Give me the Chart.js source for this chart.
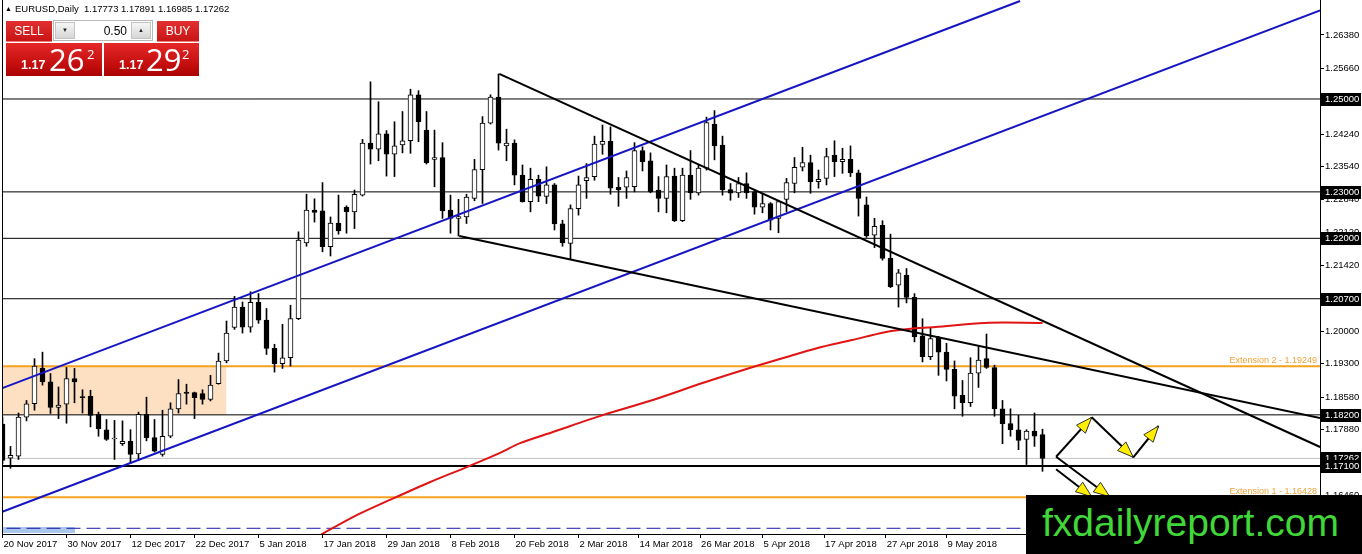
<!DOCTYPE html>
<html>
<head>
<meta charset="utf-8">
<script src="https://cdn.jsdelivr.net/npm/chart.js@4.4.1/dist/chart.umd.min.js"></script>
<style>
html,body{margin:0;padding:0;background:#fff;}
#wrap{position:relative;width:1362px;height:554px;overflow:hidden;font-family:"Liberation Sans",Arial,sans-serif;}
#c{position:absolute;left:0;top:0;}
#hdr{position:absolute;left:5px;top:3px;font-size:9.5px;color:#000;white-space:nowrap;}
#hdr .tri{font-size:7px;margin-right:3px;position:relative;top:-1px;}
.btn{position:absolute;top:21px;height:21px;background:linear-gradient(#e23030,#c81414);color:#fff;font-size:12px;line-height:21px;text-align:center;box-sizing:border-box;border-bottom:1px solid #f08080;}
#sellBtn{left:6px;width:46px;}
#buyBtn{left:157px;width:42px;}
#vol{position:absolute;left:53px;top:20px;width:100px;height:21px;background:#fff;border:1px solid #b8b8b8;box-sizing:border-box;}
#vol .ar{position:absolute;top:1px;width:20px;height:17px;background:linear-gradient(#f6f6f6,#d6d6d6);border:1px solid #c4c4c4;box-sizing:border-box;font-size:6px;line-height:15px;text-align:center;color:#222;}
#vol .dn{left:1px;}
#vol .up{right:1px;}
#vol .val{position:absolute;right:25px;top:1px;font-size:12px;line-height:18px;color:#000;}
.px{position:absolute;top:43px;height:33px;background:linear-gradient(#e52828,#c40e0e 65%,#a90404);color:#fff;box-sizing:border-box;}
#sellPx{left:6px;width:96px;}
#buyPx{left:104px;width:95px;}
.px .s{position:absolute;bottom:4px;font-size:12.5px;font-weight:bold;font-family:"Liberation Sans",Arial,sans-serif;}
.px .b{position:absolute;top:-5px;font-size:31px;font-family:"Open Sans","Liberation Sans",sans-serif;}
.px .p{position:absolute;top:2px;font-size:13px;font-family:"Open Sans","Liberation Sans",sans-serif;}
#logo{position:absolute;left:1026px;top:495px;width:336px;height:59px;background:#000;color:#40d838;font-family:"Liberation Sans",Arial,sans-serif;font-size:39px;line-height:56px;padding-left:16px;box-sizing:border-box;white-space:nowrap;}
</style>
</head>
<body>
<div id="wrap">
<canvas id="c" width="1362" height="554"></canvas>
<div id="hdr"><span class="tri">&#9650;</span>EURUSD,Daily&nbsp; 1.17773 1.17891 1.16985 1.17262</div>
<div class="btn" id="sellBtn">SELL</div>
<div id="vol"><div class="ar dn">&#9660;</div><div class="val">0.50</div><div class="ar up">&#9650;</div></div>
<div class="btn" id="buyBtn">BUY</div>
<div class="px" id="sellPx"><span class="s" style="left:15px">1.17</span><span class="b" style="left:43px">26</span><span class="p" style="left:81px">2</span></div>
<div class="px" id="buyPx"><span class="s" style="left:15px">1.17</span><span class="b" style="left:42px">29</span><span class="p" style="left:78px">2</span></div>
<div id="logo">fxdailyreport.com</div>
</div>
<script>
// ---- Data (EURUSD daily, bar index 0 = 20 Nov 2017) ----
const opens = [1.1800,1.1727,1.1731,1.1815,1.1844,1.1920,1.1891,1.1836,1.1843,1.1898,
1.1859,1.1860,1.1821,1.1788,1.1768,1.1758,1.1763,1.1736,1.1821,1.1771,
1.1735,1.1774,1.1833,1.1869,1.1868,1.1866,1.1853,1.1887,1.1936,1.2008,
1.2052,1.2009,1.2062,1.2024,1.1963,1.1930,1.1943,1.2027,1.2190,1.2261,
1.2259,1.2182,1.2233,1.2267,1.2257,1.2293,1.2405,1.2392,1.2425,1.2381,
1.2401,1.2410,1.2509,1.2433,1.2370,1.2374,1.2261,1.2243,1.2246,1.2286,
1.2348,1.2448,1.2504,1.2399,1.2405,1.2336,1.2279,1.2327,1.2290,1.2315,
1.2231,1.2189,1.2264,1.2324,1.2333,1.2402,1.2409,1.2310,1.2310,1.2311,
1.2389,1.2367,1.2304,1.2286,1.2334,1.2238,1.2336,1.2298,1.2351,1.2446,
1.2401,1.2305,1.2298,1.2318,1.2300,1.2267,1.2275,1.2243,1.2284,1.2318,
1.2353,1.2363,1.2322,1.2329,1.2379,1.2365,1.2370,1.2341,1.2272,1.2207,
1.2228,1.2157,1.2099,1.2121,1.2073,1.1990,1.1945,1.1986,1.1955,1.1918,
1.1862,1.1846,1.1910,1.1941,1.1922,1.1833,1.1801,1.1788,1.1767,1.1785,
1.17773];
const highs = [1.1815,1.1752,1.1824,1.1851,1.1941,1.1955,1.1909,1.1880,1.1922,1.1920,
1.1874,1.1873,1.1826,1.1810,1.1808,1.1807,1.1788,1.1826,1.1858,1.1810,
1.1830,1.1846,1.1896,1.1886,1.1869,1.1874,1.1905,1.1953,1.2022,1.2075,
1.2063,1.2085,1.2081,1.2049,1.1972,1.2015,1.2056,1.2214,1.2295,1.2285,
1.2320,1.2246,1.2293,1.2270,1.2304,1.2413,1.2537,1.2494,1.2432,1.2451,
1.2473,1.2521,1.2518,1.2473,1.2433,1.2406,1.2293,1.2284,1.2295,1.2370,
1.2462,1.2509,1.2554,1.2435,1.2412,1.2358,1.2351,1.2336,1.2354,1.2318,
1.2239,1.2272,1.2334,1.2361,1.2420,1.2444,1.2440,1.2331,1.2345,1.2406,
1.2397,1.2384,1.2333,1.2358,1.2351,1.2351,1.2389,1.2358,1.2461,1.2475,
1.2420,1.2318,1.2331,1.2341,1.2305,1.2295,1.2277,1.2282,1.2329,1.2374,
1.2396,1.2379,1.2347,1.2394,1.2410,1.2394,1.2399,1.2347,1.2289,1.2243,
1.2238,1.2209,1.2133,1.2135,1.2081,1.2027,1.2008,1.1989,1.1974,1.1936,
1.1894,1.1943,1.1968,1.1994,1.1927,1.1851,1.1833,1.1819,1.1788,1.1824,
1.17891];
const lows = [1.1715,1.1705,1.1724,1.1807,1.1830,1.1884,1.1823,1.1812,1.1802,1.1846,
1.1824,1.1794,1.1774,1.1765,1.1724,1.1754,1.1715,1.1722,1.1764,1.1740,
1.1731,1.1771,1.1824,1.1843,1.1812,1.1843,1.1850,1.1886,1.1932,1.2004,
1.1996,1.1998,1.2017,1.1950,1.1912,1.1920,1.1925,1.2025,1.2183,1.2235,
1.2171,1.2162,1.2209,1.2211,1.2221,1.2291,1.2360,1.2367,1.2334,1.2333,
1.2384,1.2383,1.2408,1.2360,1.2311,1.2243,1.2211,1.2205,1.2232,1.2281,
1.2275,1.2446,1.2390,1.2367,1.2315,1.2278,1.2257,1.2279,1.2275,1.2218,
1.2183,1.2155,1.2250,1.2286,1.2325,1.2381,1.2295,1.2269,1.2286,1.2300,
1.2345,1.2298,1.2257,1.2255,1.2236,1.2236,1.2284,1.2293,1.2347,1.2369,
1.2293,1.2282,1.2288,1.2286,1.2252,1.2255,1.2218,1.2212,1.2257,1.2298,
1.2345,1.2297,1.2308,1.2315,1.2333,1.2340,1.2333,1.2248,1.2202,1.2180,
1.2153,1.2094,1.2052,1.2061,1.1977,1.1934,1.1939,1.1905,1.1893,1.1833,
1.1817,1.1838,1.1879,1.1920,1.1817,1.1758,1.1774,1.1745,1.1713,1.1752,
1.16985];
const closes = [1.1722,1.1733,1.1815,1.1844,1.1925,1.1891,1.1836,1.1841,1.1898,1.1891,
1.1857,1.1819,1.1790,1.1767,1.1770,1.1763,1.1735,1.1821,1.1771,1.1742,
1.1774,1.1833,1.1866,1.1866,1.1857,1.1853,1.1884,1.1936,1.1996,1.2052,
1.2009,1.2062,1.2024,1.1963,1.1930,1.1943,1.2027,1.2196,1.2261,1.2256,
1.2182,1.2233,1.2216,1.2257,1.2295,1.2405,1.2392,1.2425,1.2381,1.2399,
1.2410,1.2509,1.2451,1.2363,1.2374,1.2259,1.2243,1.2247,1.2289,1.2348,
1.2448,1.2504,1.2405,1.2405,1.2336,1.2279,1.2327,1.2291,1.2315,1.2231,
1.2190,1.2264,1.2315,1.2331,1.2403,1.2409,1.2308,1.2304,1.2331,1.2389,
1.2365,1.2300,1.2286,1.2333,1.2238,1.2336,1.2298,1.2351,1.2449,1.2399,
1.2304,1.2297,1.2318,1.2298,1.2267,1.2275,1.2239,1.2279,1.2320,1.2353,
1.2363,1.2322,1.2327,1.2376,1.2365,1.2370,1.2341,1.2286,1.2205,1.2226,
1.2157,1.2096,1.2126,1.2073,1.1988,1.1945,1.1984,1.1955,1.1918,1.1860,
1.1846,1.1910,1.1938,1.1922,1.1833,1.1801,1.1788,1.1765,1.1785,1.1774,
1.17262];

const tickIdx = [0,8,16,24,32,40,48,56,64,72,79.5,87.2,95,102.7,110.4,118];
const tickLabels = ['20 Nov 2017','30 Nov 2017','12 Dec 2017','22 Dec 2017','5 Jan 2018','17 Jan 2018','29 Jan 2018','8 Feb 2018','20 Feb 2018','2 Mar 2018','14 Mar 2018','26 Mar 2018','5 Apr 2018','17 Apr 2018','27 Apr 2018','9 May 2018'];
const priceTicks = [1.2638,1.2566,1.2496,1.2424,1.2354,1.2284,1.2212,1.2142,1.2072,1.2000,1.1930,1.1858,1.1788,1.1716,1.1646];

const blackLevels = [1.25, 1.23, 1.22, 1.207, 1.182];
const keyLevel = 1.171;
const bidPrice = 1.17262;
const extensionLevels = [1.19249, 1.16428];
const extensionNames = ['Extension 2 - 1.19249', 'Extension 1 - 1.16428'];
const boxLevels = [1.17262, 1.25, 1.23, 1.22, 1.207, 1.182, 1.171];
const dashedLevel = 1.15758;

const zoneIdx = [-1, 28.0];
const zonePrices = [1.19249, 1.1820];
const blueBlockIdx = [-1, 9.06];
const blueBlockPrices = [1.15786, 1.15657];

const maIdx = [39.6,43.8,48.7,53.4,58.1,62.2,64.7,68.8,75.1,81.3,87.6,93.8,99.3,101.9,106.2,110.3,113.2,116.6,122.8,130];
const maVal = [1.1560,1.1600,1.1639,1.1675,1.1708,1.1738,1.1759,1.1783,1.1820,1.1852,1.1889,1.1923,1.1951,1.1964,1.1981,1.1998,1.2005,1.2009,1.2018,1.2018];

const channelUpper = [[-0.31, 1.18757], [127.2, 1.27110]];
const channelLower = [[-0.31, 1.16094], [164.7, 1.26905]];
const trendHigh = [[62.1, 1.2554], [164.7, 1.17508]];
const trendLow = [[57.1, 1.2205], [164.7, 1.18132]];

const arrows = [
  [[131.7, 1.17299], [136.15, 1.18147]],
  [[136.15, 1.18147], [141.35, 1.17286]],
  [[141.35, 1.17286], [144.5, 1.17960]],
  [[131.7, 1.17299], [138.4, 1.16438]],
  [[131.7, 1.17028], [136.15, 1.16438]]
];

// ---- Build datasets ----
const idx = opens.map((_, i) => i);
const FONT = '"Liberation Sans", Arial, sans-serif';
const XMIN = -0.0625, XMAX = -0.0625 + 1318 / 8;

function hLine(p, color, width, order, dash) {
  return {type: 'line', data: [{x: -2, y: p}, {x: 170, y: p}], borderColor: color, borderWidth: width,
    borderDash: dash || [], pointRadius: 0, order: order, fill: false, tension: 0};
}
function seg(pts, color, width, order) {
  return {type: 'line', data: pts.map(p => ({x: p[0], y: p[1]})), borderColor: color, borderWidth: width,
    pointRadius: 0, order: order, fill: false, tension: 0};
}

const datasets = [];
datasets.push({type: 'line', data: zoneIdx.map(v => ({x: v, y: zonePrices[0]})), borderWidth: 0, borderColor: 'rgba(0,0,0,0)',
  backgroundColor: '#fde0c2', fill: {value: zonePrices[1]}, pointRadius: 0, order: 20});
datasets.push({type: 'line', data: blueBlockIdx.map(v => ({x: v, y: blueBlockPrices[0]})), borderWidth: 0, borderColor: 'rgba(0,0,0,0)',
  backgroundColor: '#a9c7ea', fill: {value: blueBlockPrices[1]}, pointRadius: 0, order: 19});
blackLevels.forEach(p => datasets.push(hLine(p, '#000000', 1, 15)));
datasets.push(hLine(keyLevel, '#000000', 2, 15));
datasets.push(hLine(bidPrice, '#c0c0c0', 1, 16));
extensionLevels.forEach(p => datasets.push(hLine(p, '#f5a21f', 2, 15)));
datasets.push(hLine(dashedLevel, '#1a1aa8', 1, 15, [14, 6]));
datasets.push({type: 'bar', data: idx.map(i => ({x: i, y: [lows[i], highs[i]]})), backgroundColor: '#000', borderWidth: 0,
  barThickness: 1, grouped: false, order: 6, minBarLength: 1});
datasets.push({type: 'bar', data: idx.map(i => ({x: i, y: [opens[i], closes[i]]})),
  backgroundColor: idx.map(i => closes[i] >= opens[i] ? '#ffffff' : '#000000'),
  borderColor: '#000', borderWidth: 1, borderSkipped: false, barThickness: 5, grouped: false, order: 5, minBarLength: 1});
datasets.push({type: 'line', data: maIdx.map((v, i) => ({x: v, y: maVal[i]})), borderColor: '#e01414', borderWidth: 2,
  pointRadius: 0, order: 3, fill: false, tension: 0.3});
datasets.push(seg(channelUpper, '#1515c4', 2, 2));
datasets.push(seg(channelLower, '#1515c4', 2, 2));
datasets.push(seg(trendHigh, '#000000', 2, 1));
datasets.push(seg(trendLow, '#000000', 2, 1));

const overlay = {
  id: 'overlay',
  afterDatasetsDraw(chart) {
    const {ctx, chartArea: a, scales: {x, y}} = chart;
    ctx.save();
    ctx.strokeStyle = '#000'; ctx.lineWidth = 1;
    ctx.beginPath(); ctx.moveTo(a.left + 0.5, a.top); ctx.lineTo(a.left + 0.5, a.bottom); ctx.stroke();
    ctx.font = '9px ' + FONT; ctx.fillStyle = '#eea33a'; ctx.textAlign = 'right'; ctx.textBaseline = 'alphabetic';
    extensionLevels.forEach((p, i) => ctx.fillText(extensionNames[i], a.right - 3, y.getPixelForValue(p) - 3));
    ctx.beginPath(); ctx.rect(a.left, a.top, a.right - a.left, a.bottom - a.top); ctx.clip();
    arrows.forEach(([s, e]) => {
      const x1 = x.getPixelForValue(s[0]), y1 = y.getPixelForValue(s[1]);
      const x2 = x.getPixelForValue(e[0]), y2 = y.getPixelForValue(e[1]);
      ctx.strokeStyle = '#000'; ctx.lineWidth = 2;
      ctx.beginPath(); ctx.moveTo(x1, y1); ctx.lineTo(x2, y2); ctx.stroke();
      const ang = Math.atan2(y2 - y1, x2 - x1), L = 16, W = 6;
      const bx = x2 - L * Math.cos(ang), by = y2 - L * Math.sin(ang);
      ctx.beginPath();
      ctx.moveTo(x2, y2);
      ctx.lineTo(bx + W * Math.sin(ang), by - W * Math.cos(ang));
      ctx.lineTo(bx - W * Math.sin(ang), by + W * Math.cos(ang));
      ctx.closePath();
      ctx.fillStyle = '#ffee00'; ctx.fill();
      ctx.lineWidth = 1; ctx.strokeStyle = '#333'; ctx.stroke();
    });
    ctx.restore();
  },
  afterDraw(chart) {
    const {ctx, chartArea: a, scales: {y}} = chart;
    ctx.save();
    ctx.font = '9.5px ' + FONT; ctx.textAlign = 'left'; ctx.textBaseline = 'middle';
    boxLevels.forEach(p => {
      const py = Math.round(y.getPixelForValue(p));
      ctx.fillStyle = '#000'; ctx.fillRect(a.right + 1, py - 6, 40, 13);
      ctx.fillStyle = '#fff'; ctx.fillText(p.toFixed(5), a.right + 5, py + 0.5);
    });
    ctx.restore();
  }
};

new Chart(document.getElementById('c'), {
  type: 'bar',
  data: {datasets},
  options: {
    responsive: false, animation: false, devicePixelRatio: 1,
    layout: {padding: {left: 2, top: 0, right: 0, bottom: 0}},
    plugins: {legend: {display: false}, tooltip: {enabled: false}},
    scales: {
      x: {
        type: 'linear', min: XMIN, max: XMAX, offset: false,
        afterBuildTicks: s => { s.ticks = tickIdx.map(v => ({value: v})); },
        afterFit: s => { s.height = 20; s.paddingLeft = 0; s.paddingRight = 0; },
        ticks: {callback: v => { const k = tickIdx.indexOf(v); return k >= 0 ? tickLabels[k] : ''; },
          align: 'start', maxRotation: 0, minRotation: 0, autoSkip: false, color: '#000', padding: 1, labelOffset: 1,
          font: {size: 9.5, family: FONT}},
        grid: {drawOnChartArea: false, drawTicks: true, tickLength: 4, color: '#000', offset: false},
        border: {display: true, color: '#000', width: 1}
      },
      y: {
        type: 'linear', position: 'right', min: 1.15635, max: 1.27131, beginAtZero: false,
        afterBuildTicks: s => { s.ticks = priceTicks.map(v => ({value: v})); },
        afterFit: s => { s.width = 42; s.paddingTop = 0; s.paddingBottom = 0; },
        ticks: {callback: v => v.toFixed(5), color: '#000', padding: 1, font: {size: 9.5, family: FONT}},
        grid: {drawOnChartArea: false, drawTicks: true, tickLength: 4, color: '#000'},
        border: {display: true, color: '#000', width: 1}
      }
    }
  },
  plugins: [overlay]
});
</script>
</body>
</html>
